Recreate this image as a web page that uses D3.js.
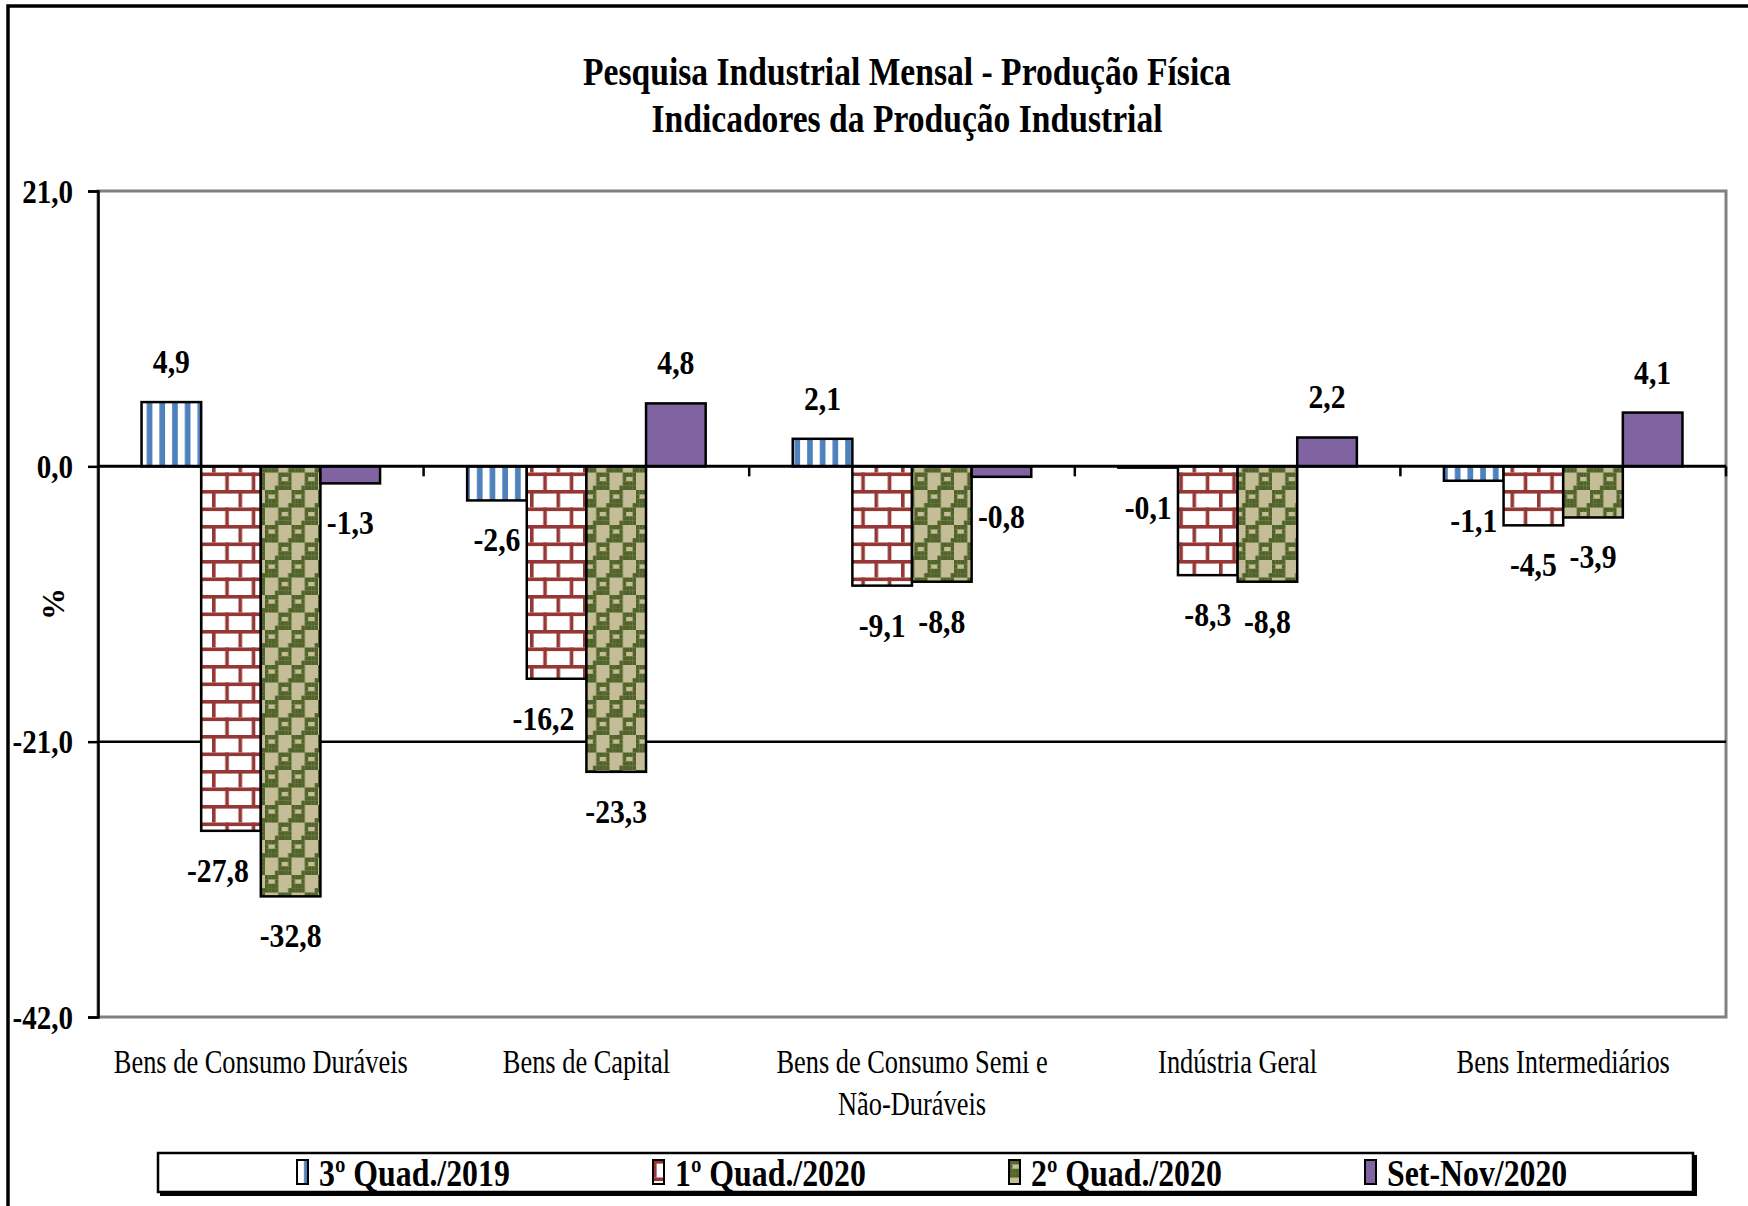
<!DOCTYPE html>
<html>
<head>
<meta charset="utf-8">
<script src="https://cdn.jsdelivr.net/npm/d3@7"></script>
<style>
  body { margin: 0; background: #fff; }
  text { font-family: "Liberation Serif", "Times New Roman", serif; fill: #000; }
</style>
</head>
<body>
<svg id="chart"></svg>
<script>
// chart data
const categories = ["Bens de Consumo Duráveis", "Bens de Capital", "Bens de Consumo Semi e Não-Duráveis", "Indústria Geral", "Bens Intermediários"];
const categoryLines = [["Bens de Consumo Duráveis"], ["Bens de Capital"], ["Bens de Consumo Semi e", "Não-Duráveis"], ["Indústria Geral"], ["Bens Intermediários"]];
const seriesNames = ["3º Quad./2019", "1º Quad./2020", "2º Quad./2020", "Set-Nov/2020"];
const q3_2019 = [4.9, -2.6, 2.1, -0.1, -1.1];
const q1_2020 = [-27.8, -16.2, -9.1, -8.3, -4.5];
const q2_2020 = [-32.8, -23.3, -8.8, -8.8, -3.9];
const setNov2020 = [-1.3, 4.8, -0.8, 2.2, 4.1];
const yTicks = [21, 0, -21, -42];
const titleLines = ["Pesquisa Industrial Mensal - Produção Física", "Indicadores da Produção Industrial"];

const seriesValues = [q3_2019, q1_2020, q2_2020, setNov2020];
const fills = ["url(#pBlue)", "url(#pBrick)", "url(#pCheck)", "#8064A2"];

const W = 1748, H = 1206;
const margin = {top: 191, right: 22, bottom: 189, left: 98};

const svg = d3.select("#chart").attr("width", W).attr("height", H);

// ---- patterns
const defs = svg.append("defs");

const pBlue = defs.append("pattern").attr("id", "pBlue")
    .attr("patternUnits", "userSpaceOnUse").attr("width", 12.7).attr("height", 10);
pBlue.append("rect").attr("width", 12.7).attr("height", 10).attr("fill", "#fff");
pBlue.append("rect").attr("x", 7).attr("width", 5.9).attr("height", 10).attr("fill", "#4F81BD");

const bw = 26.5, bh = 35, lw = 3.6, brick = "#953735";
const pBrick = defs.append("pattern").attr("id", "pBrick")
    .attr("patternUnits", "userSpaceOnUse").attr("width", bw).attr("height", bh);
pBrick.append("rect").attr("width", bw).attr("height", bh).attr("fill", "#fff");
pBrick.append("rect").attr("y", 0).attr("width", bw).attr("height", lw).attr("fill", brick);
pBrick.append("rect").attr("y", bh / 2).attr("width", bw).attr("height", lw).attr("fill", brick);
pBrick.append("rect").attr("x", 0).attr("y", 0).attr("width", lw).attr("height", bh / 2).attr("fill", brick);
pBrick.append("rect").attr("x", bw / 2).attr("y", bh / 2).attr("width", lw).attr("height", bh / 2).attr("fill", brick);

// 8x8 checker cells: 1 = dark olive, 0 = tan
const checkGrid = [
  "11110000",
  "10010000",
  "11110000",
  "11110001",
  "00001111",
  "00001001",
  "00001111",
  "00011111"
];
const cw = 26.5 / 8, ch = 35 / 8;
const pCheck = defs.append("pattern").attr("id", "pCheck")
    .attr("patternUnits", "userSpaceOnUse").attr("width", cw * 8).attr("height", ch * 8);
pCheck.append("rect").attr("width", cw * 8).attr("height", ch * 8).attr("fill", "#C4BD97");
checkGrid.forEach((row, r) => {
  row.split("").forEach((c, k) => {
    if (c === "1") pCheck.append("rect").attr("x", k * cw).attr("y", r * ch)
        .attr("width", cw + 0.05).attr("height", ch + 0.05).attr("fill", "#4F6228");
  });
});

// ---- frame
svg.append("rect").attr("x", 8).attr("y", 6).attr("width", W + 20).attr("height", H + 20)
    .attr("fill", "none").attr("stroke", "#000").attr("stroke-width", 3.5);

// ---- scales
const x0 = d3.scaleBand().domain(categories)
    .range([margin.left, W - margin.right]).padding(0);
const x1 = d3.scaleBand().domain(d3.range(seriesNames.length))
    .range([0, x0.bandwidth()]).paddingInner(0).paddingOuter(0.73);
const y = d3.scaleLinear().domain([-42, 21]).range([H - margin.bottom, margin.top]);

const fmt = v => d3.format(".1f")(v).replace(".", ",").replace("−", "-");

// plot area border (grey)
svg.append("rect")
    .attr("x", margin.left).attr("y", y(21))
    .attr("width", W - margin.right - margin.left).attr("height", y(-42) - y(21))
    .attr("fill", "none").attr("stroke", "#808080").attr("stroke-width", 3);

// gridline at -21 (black)
svg.append("g").selectAll("line").data(yTicks.filter(d => d !== 21 && d !== -42 && d !== 0))
  .join("line")
    .attr("x1", margin.left).attr("x2", W - margin.right)
    .attr("y1", d => y(d)).attr("y2", d => y(d))
    .attr("stroke", "#000").attr("stroke-width", 2.5);

// ---- bars
const barData = [];
categories.forEach((c, i) => seriesValues.forEach((s, j) => barData.push({c, i, j, v: s[i]})));

svg.append("g").selectAll("rect").data(barData).join("rect")
    .attr("x", d => x0(d.c) + x1(d.j))
    .attr("width", x1.bandwidth())
    .attr("y", d => y(Math.max(0, d.v)))
    .attr("height", d => Math.abs(y(d.v) - y(0)))
    .attr("fill", d => fills[d.j])
    .attr("stroke", "#000").attr("stroke-width", 2.5);

// zero line
svg.append("line")
    .attr("x1", margin.left).attr("x2", W - margin.right)
    .attr("y1", y(0)).attr("y2", y(0))
    .attr("stroke", "#000").attr("stroke-width", 3);

// category tick marks on zero line
const bounds = categories.slice(1).map(c => x0(c)).concat([x0.range()[1]]);
svg.append("g").selectAll("line").data(bounds).join("line")
    .attr("x1", d => d).attr("x2", d => d)
    .attr("y1", y(0)).attr("y2", y(0) + 10)
    .attr("stroke", "#000").attr("stroke-width", 2.5);

// ---- y axis
const yAxis = d3.axisLeft(y).tickValues(yTicks).tickSize(10).tickPadding(12).tickFormat(fmt);
const ga = svg.append("g").attr("transform", `translate(${margin.left},0)`).call(yAxis);
ga.select(".domain").attr("stroke", "#000").attr("stroke-width", 2.5);
ga.selectAll(".tick line").attr("stroke", "#000").attr("stroke-width", 2.5);
ga.selectAll(".tick text")
    .attr("font-size", 33).attr("font-weight", "bold")
    .attr("font-family", "Liberation Serif")
    .attr("x", -25 / 0.88).attr("dy", "0.34em")
    .attr("transform", "scale(0.88,1)");

svg.append("text")
    .attr("transform", `translate(64,${y(-10.5)}) rotate(-90)`)
    .attr("text-anchor", "middle").attr("font-size", 32).attr("font-weight", "bold")
    .text("%");

// ---- data labels (nudged left when they would run into the next, deeper bar)
const labels = svg.append("g").selectAll("text").data(barData).join("text")
    .attr("text-anchor", "middle").attr("font-size", 33).attr("font-weight", "bold")
    .text(d => fmt(d.v));
labels.attr("transform", function(d) {
  const sx = 0.9;
  const w = this.getComputedTextLength() * sx;
  let cx = x0(d.c) + x1(d.j) + x1.bandwidth() / 2;
  const cy = d.v >= 0 ? y(d.v) - 29 : y(d.v) + 51;
  const next = seriesValues[d.j + 1];
  if (d.v < 0 && next && y(next[d.i]) > cy - 20 && w > x1.bandwidth() - 4) {
    cx -= (w - x1.bandwidth()) / 2 + 12;
  }
  return `translate(${cx},${cy}) scale(${sx},1)`;
});

// ---- category labels
const cl = svg.append("g").selectAll("g").data(categories).join("g")
    .attr("transform", c => `translate(${x0(c) + x0.bandwidth() / 2},1073) scale(0.8,1)`);
cl.selectAll("text").data((c, i) => categoryLines[i]).join("text")
    .attr("y", (d, k) => k * 42)
    .attr("text-anchor", "middle").attr("font-size", 33)
    .text(d => d);

// ---- title
svg.append("g").selectAll("text").data(titleLines).join("text")
    .attr("transform", (d, k) => `translate(907,${85 + k * 47}) scale(0.84,1)`)
    .attr("text-anchor", "middle").attr("font-size", 40).attr("font-weight", "bold")
    .text(d => d);

// ---- legend
const lg = svg.append("g");
lg.append("rect").attr("x", 160).attr("y", 1155).attr("width", 1537).attr("height", 41)
    .attr("fill", "#000");
lg.append("rect").attr("x", 158).attr("y", 1153).attr("width", 1535).attr("height", 39)
    .attr("fill", "#fff").attr("stroke", "#000").attr("stroke-width", 2.5);
const li = lg.selectAll("g").data(seriesNames).join("g")
    .attr("transform", (d, i) => `translate(${297 + i * 356},1160)`);
li.append("rect").attr("width", 11).attr("height", 24)
    .attr("fill", (d, i) => fills[i]).attr("stroke", "#000").attr("stroke-width", 2);
li.append("text").attr("transform", "translate(22,26) scale(0.86,1)")
    .attr("font-size", 37).attr("font-weight", "bold")
    .text(d => d);
</script>
</body>
</html>
